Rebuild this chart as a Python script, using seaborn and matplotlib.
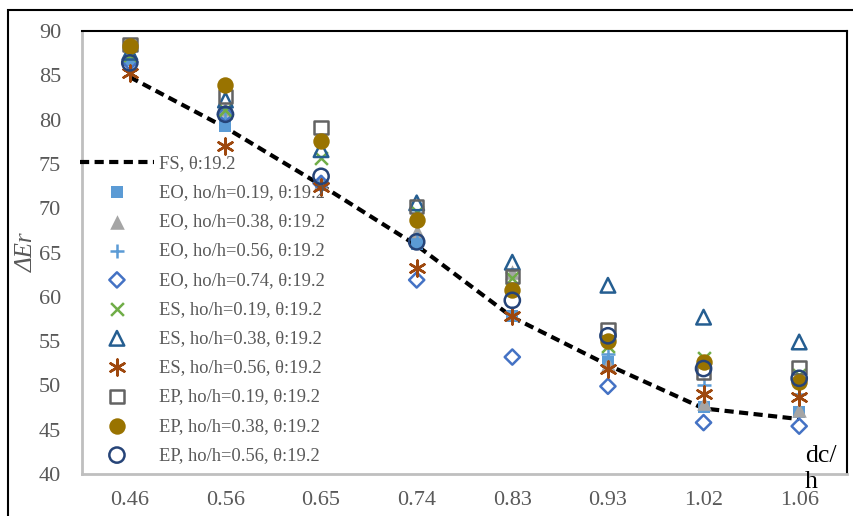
import matplotlib
matplotlib.use("Agg")
import matplotlib.pyplot as plt
import seaborn as sns
import pandas as pd
from matplotlib.patches import Rectangle

# ---------------- data ----------------
categories = ["0.46", "0.56", "0.65", "0.74", "0.83", "0.93", "1.02", "1.06"]

fs_values = [84.8, 79.1, 72.6, 65.8, 57.7, 52.3, 47.4, 46.2]

series_labels = [
    "EO, ho/h=0.19, θ:19.2",
    "EO, ho/h=0.38, θ:19.2",
    "EO, ho/h=0.56, θ:19.2",
    "EO, ho/h=0.74, θ:19.2",
    "ES, ho/h=0.19, θ:19.2",
    "ES, ho/h=0.38, θ:19.2",
    "ES, ho/h=0.56, θ:19.2",
    "EP, ho/h=0.19, θ:19.2",
    "EP, ho/h=0.38, θ:19.2",
    "EP, ho/h=0.56, θ:19.2",
]
eo_019 = [86.7, 79.3, 72.6, 66.0, 57.8, 52.6, 47.6, 47.0]
eo_038 = [87.4, 81.2, 73.0, 67.4, 62.8, 52.4, 48.0, 47.2]
eo_056 = [86.6, 80.2, 73.0, 66.5, 58.2, 53.6, 50.0, 49.0]
eo_074 = [86.5, 80.6, 72.8, 61.9, 53.2, 49.9, 45.8, 45.4]
es_019 = [87.3, 81.1, 75.7, 69.6, 62.1, 54.4, 53.1, 51.2]
es_038 = [87.6, 82.2, 76.6, 70.6, 63.9, 61.3, 57.7, 54.9]
es_056 = [85.3, 77.0, 72.4, 63.2, 57.8, 51.8, 49.0, 48.7]
ep_019 = [88.5, 82.6, 79.1, 70.2, 62.3, 56.3, 51.5, 52.0]
ep_038 = [88.3, 83.9, 77.6, 68.7, 60.8, 55.0, 52.6, 50.4]
ep_056 = [86.4, 80.6, 73.6, 66.2, 59.6, 55.6, 51.9, 50.8]
series_values = [eo_019, eo_038, eo_056, eo_074, es_019, es_038, es_056,
                 ep_019, ep_038, ep_056]

y_ticks = [40, 45, 50, 55, 60, 65, 70, 75, 80, 85, 90]

# ---------------- styles ----------------
styles = [
    dict(marker="s", color="#5B9BD5", filled=True, s=85),
    dict(marker="^", color="#A5A5A5", filled=True, s=110),
    dict(marker="+", color="#5B9BD5", filled=None, s=110),
    dict(marker="D", color="#4472C4", filled=False, s=60),
    dict(marker="x", color="#70AD47", filled=None, s=85),
    dict(marker="^", color="#255E91", filled=False, s=110),
    dict(marker=(6, 2, 0), color="#9E480E", filled=None, s=130),
    dict(marker="s", color="#636363", filled=False, s=95),
    dict(marker="o", color="#997300", filled=True, s=140),
    dict(marker="o", color="#264478", filled=False, s=120),
]

sns.set_theme(style="white")
plt.rcParams["font.family"] = ["Liberation Serif", "DejaVu Serif"]

W, H = 854, 516
fig = plt.figure(figsize=(W / 100, H / 100), dpi=100)
ax_l, ax_r, ax_t, ax_b = 82, 847, 31, 474
ax = fig.add_axes([ax_l / W, 1 - ax_b / H, (ax_r - ax_l) / W, (ax_b - ax_t) / H])

fs_df = pd.DataFrame({"x": categories, "y": fs_values})
sns.lineplot(data=fs_df, x="x", y="y", ax=ax, color="black", linewidth=3,
             dashes=False, linestyle=(0, (2.2, 1.3)), label="FS, θ:19.2",
             sort=False, zorder=2)

for lab, vals, st in zip(series_labels, series_values, styles):
    df = pd.DataFrame({"x": categories, "y": vals})
    kw = dict(data=df, x="x", y="y", ax=ax, marker=st["marker"], s=st["s"],
              label=lab, zorder=3)
    if st["filled"] is True:
        kw.update(color=st["color"], edgecolor=st["color"], linewidth=0)
    elif st["filled"] is False:
        kw.update(facecolor="none", edgecolor=st["color"], linewidth=1.8)
    else:
        kw.update(color=st["color"], linewidth=1.8)
    sns.scatterplot(**kw)

ax.set_xlim(-0.5, len(categories) - 0.5)
ax.set_ylim(40, 90)
ax.set_yticks(y_ticks)
ax.set_xlabel("")
ax.set_ylabel("ΔEr", fontsize=18, fontstyle="italic", color="#595959")
ax.yaxis.set_label_coords((38 - ax_l) / (ax_r - ax_l), (ax_b - 252) / (ax_b - ax_t))

ax.tick_params(axis="both", which="both", length=0, labelsize=16,
               labelcolor="#595959")
ax.tick_params(axis="y", pad=15)
ax.tick_params(axis="x", pad=12)

for side in ["left", "bottom"]:
    ax.spines[side].set_color("#BFBFBF")
    ax.spines[side].set_linewidth(2)
for side in ["top", "right"]:
    ax.spines[side].set_color("black")
    ax.spines[side].set_linewidth(1.5)
ax.grid(False)

leg = ax.legend(loc="upper left",
                bbox_to_anchor=((80 - ax_l) / (ax_r - ax_l), (ax_b - 155) / (ax_b - ax_t)),
                frameon=False, fontsize=13.3, handlelength=4.0, handletextpad=0.25,
                labelspacing=0.66, borderpad=0, borderaxespad=0)
for t in leg.get_texts():
    t.set_color("#595959")

fig.text(805 / W, 1 - 445 / H, "dc/\nh", fontsize=18.5, color="black",
         ha="left", va="top", linespacing=1.25)

# outer chart frame (right and bottom edges fall outside the image)
fig.patches.append(Rectangle((8 / W, -0.05), 1.0, 1 - 10 / H + 0.05,
                             transform=fig.transFigure, fill=False,
                             edgecolor="black", linewidth=1.5, clip_on=False))

fig.savefig("out.png", dpi=100)
